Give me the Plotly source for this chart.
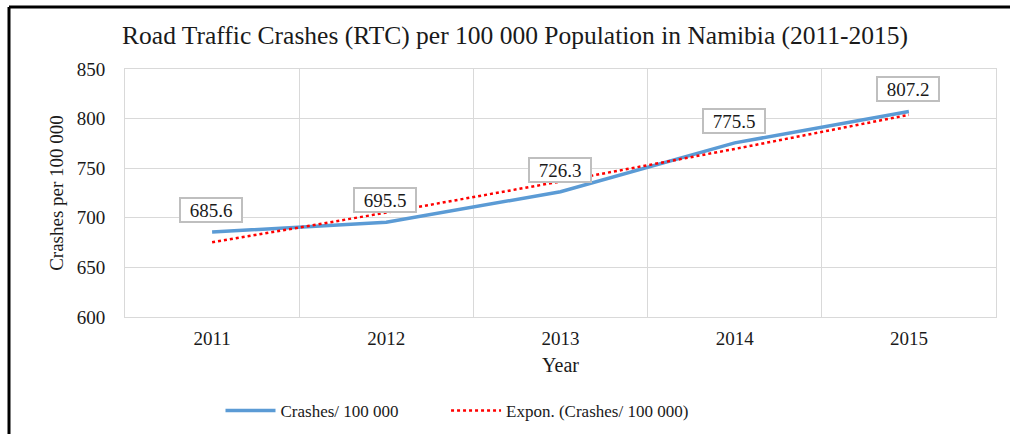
import plotly.graph_objects as go

years = ["2011", "2012", "2013", "2014", "2015"]
crashes = [685.6, 695.5, 726.3, 775.5, 807.2]
trend = [675.3, 705.2, 736.6, 769.4, 803.8]
labels = ["685.6", "695.5", "726.3", "775.5", "807.2"]

SERIF = "Liberation Serif, Times New Roman, serif"
INK = "#1a1a1a"
PAD = "\u00a0" * 10

fig = go.Figure()
fig.add_trace(go.Scatter(x=years, y=crashes, mode="lines", name="Crashes/ 100 000" + PAD,
                         line=dict(color="#5B9BD5", width=3.5)))
fig.add_trace(go.Scatter(x=years, y=trend, mode="lines", name="Expon. (Crashes/ 100 000)",
                         line=dict(color="#FF0000", width=2.5, dash="dot")))

annots = []
for i, (y, t) in enumerate(zip(crashes, labels)):
    annots.append(dict(xref="x", yref="y", x=i, y=y, text=t, showarrow=False, yshift=22, xshift=-1,
                       font=dict(family=SERIF, size=19, color=INK), width=58, height=20,
                       bgcolor="white", bordercolor="#BFBFBF", borderwidth=2, borderpad=1))

W, H = 1010, 434
L, R, T, B = 125, 14, 69, 117
pw, ph = W - L - R, H - T - B
def px(x): return (x - L) / pw
def py(y): return 1 - (y - T) / ph

shapes = [
    dict(type="line", xref="paper", yref="paper", x0=px(9), x1=px(1015), y0=py(7), y1=py(7),
         line=dict(color="black", width=3)),
    dict(type="line", xref="paper", yref="paper", x0=px(9), x1=px(9), y0=py(7), y1=py(440),
         line=dict(color="black", width=3)),
]

fig.update_layout(
    width=W, height=H,
    margin=dict(l=L, r=R, t=T, b=B, autoexpand=False),
    paper_bgcolor="white", plot_bgcolor="white",
    annotations=annots, shapes=shapes,
    title=dict(text="Road Traffic Crashes (RTC) per 100 000 Population in Namibia (2011-2015)",
               x=0.51, xanchor="center", y=1 - 35 / H, yanchor="middle",
               font=dict(family=SERIF, size=25.5, color=INK)),
    font=dict(family=SERIF, color=INK),
    showlegend=True,
    legend=dict(orientation="h", x=px(457), xanchor="center", y=py(411), yanchor="middle",
                font=dict(family=SERIF, size=17, color=INK), itemwidth=50),
    xaxis=dict(type="category", tickson="boundaries", range=[-0.5, 4.5], automargin=False,
               showgrid=True, gridcolor="#D9D9D9", gridwidth=1,
               showline=True, linecolor="#D9D9D9", mirror=True, ticks="",
               ticklabelstandoff=4,
               tickfont=dict(family=SERIF, size=19, color=INK),
               title=dict(text="Year", font=dict(family=SERIF, size=20, color=INK), standoff=10)),
    yaxis=dict(range=[600, 850], dtick=50, showgrid=True, gridcolor="#D9D9D9", gridwidth=1,
               showline=True, linecolor="#D9D9D9", mirror=True, ticks="", automargin=False,
               zeroline=False, ticklabelstandoff=15,
               tickfont=dict(family=SERIF, size=19, color=INK),
               title=dict(text="Crashes per 100 000", font=dict(family=SERIF, size=19, color=INK),
                          standoff=8)),
)

fig.write_html("out.html", config={"displayModeBar": False},
               post_script="document.body.style.margin='0';")
